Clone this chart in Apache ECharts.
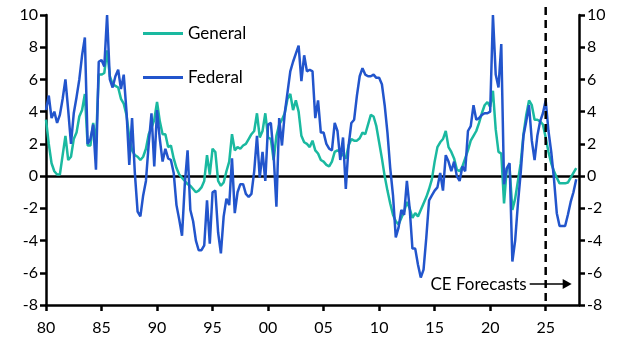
<!DOCTYPE html>
<html><head><meta charset="utf-8">
<script src="https://cdn.jsdelivr.net/npm/echarts@6/dist/echarts.min.js"></script>
<style>html,body{margin:0;padding:0;background:#fff}#c{width:630px;height:355px}</style>
</head><body><div id="c"></div>
<script>
// Quarterly data, 1980Q1 .. 2027Q4 (% y/y)
const startYear = 1980;
const seriesNames = ['General', 'Federal'];
const general = [
  3.5, 2.0, 0.8, 0.3, 0.1, 0.1, 1.3, 2.5, 1.0, 1.2,
  2.3, 2.7, 3.7, 4.1, 5.1, 1.9, 1.9, 3.3, 2.0, 6.3,
  6.3, 6.4, 7.8, 6.2, 5.7, 5.6, 5.5, 4.8, 4.5, 3.8,
  2.4, 1.6, 1.3, 1.2, 1.0, 1.2, 1.7, 2.6, 3.0, 3.5,
  4.6, 3.4, 2.6, 2.6, 1.8, 1.9, 1.1, 0.5, 0.1, -0.1,
  -0.3, -0.5, -0.6, -0.8, -1.0, -0.9, -0.7, -0.3, 1.3, 0.1,
  1.7, 1.5, -0.3, -0.6, -0.4, 0.3, 0.9, 2.6, 1.6, 1.8,
  1.7, 1.9, 2.0, 2.3, 2.6, 2.8, 3.9, 2.4, 2.8, 3.9,
  2.4, 2.3, 1.0, 2.5, 3.2, 3.5, 3.9, 4.8, 5.1, 4.1,
  4.7, 4.0, 2.5, 2.1, 2.0, 1.8, 2.2, 1.6, 1.4, 1.0,
  0.9, 0.7, 0.6, 0.9, 1.5, 1.6, 1.5, 1.3, 1.1, 1.9,
  2.3, 2.2, 2.2, 2.35, 2.7, 2.6, 3.2, 3.8, 3.7, 3.1,
  2.1, 1.1, 0.0, -0.9, -1.7, -2.4, -2.8, -3.0, -2.6, -2.2,
  -1.6, -2.0, -2.6, -2.3, -2.5, -2.1, -1.7, -1.3, -0.8, -0.2,
  0.9, 1.8, 2.1, 2.3, 2.8, 1.8, 1.5, 1.1, 0.4, 0.3,
  0.6, 1.1, 1.6, 2.2, 2.5, 2.8, 3.3, 3.9, 4.4, 4.6,
  4.3, 5.3, 2.9, 1.5, 1.4, -1.7, 0.5, 0.5, -2.1, -1.4,
  -0.3, 0.8, 2.6, 3.8, 4.7, 4.4, 3.5, 3.5, 3.4, 3.2,
  2.4, 1.5, 0.8, 0.3, -0.1, -0.45, -0.45, -0.45, -0.4, -0.1,
  0.2, 0.5
];
const federal = [
  4.1, 5.0, 3.6, 4.0, 3.3, 3.8, 4.8, 6.0, 4.1, 2.0,
  3.9, 4.9, 6.0, 7.5, 8.6, 2.0, 2.3, 3.2, 0.4, 7.1,
  7.2, 6.8, 10.0, 6.0, 5.5, 6.2, 6.6, 5.4, 6.3, 4.0,
  0.7, 3.6, 0.2, -2.2, -2.5, -1.2, -0.3, 2.0, 3.9, 0.6,
  4.1, 2.3, 0.9, 1.7, 1.1, 1.0, 0.2, -1.8, -2.7, -3.7,
  -0.5, 1.6, -2.1, -2.8, -4.0, -4.6, -4.6, -4.3, -1.5, -4.2,
  -1.0, -0.9, -3.5, -4.8, -2.5, -1.4, -1.8, 1.1, -2.3, -1.0,
  -0.5, -0.5, -1.1, -1.3, -1.1, 0.3, 2.5, -0.1, 1.5, -0.3,
  3.2, 3.3, 1.3, -1.9, 3.6, 1.9, 3.9, 5.2, 6.5, 7.1,
  7.6, 8.1, 5.9, 7.5, 6.5, 6.6, 6.5, 3.6, 4.7, 2.7,
  2.7, 2.0, 1.7, 1.6, 3.3, 2.8, 1.0, 2.4, -0.8, 1.9,
  3.3, 3.5, 5.0, 6.2, 6.7, 6.3, 6.2, 6.2, 6.3, 6.1,
  6.1, 5.7, 4.4, 2.7, 0.5, -1.2, -3.8, -3.2, -2.1, -2.4,
  -0.3, -2.0, -4.5, -4.5, -5.5, -6.3, -5.8, -3.8, -1.5, -1.2,
  -0.9, -0.7, 0.2, -0.9, 1.3, 0.9, 0.3, 0.9, 0.0, -0.3,
  0.6, 0.3, 2.8, 3.1, 4.4, 3.5, 3.6, 3.8, 3.9, 3.9,
  4.0, 10.0, 6.3, 5.5, 8.2, -0.5, 0.5, 0.8, -5.3, -4.0,
  -1.7, 0.2, 2.5, 3.4, 4.4, 2.2, 1.0, 2.5, 3.4, 3.9,
  4.7, 2.8, 1.5, -0.2, -2.3, -3.1, -3.1, -3.1, -2.4, -1.6,
  -1.0, -0.2
];
const xMin = 1980, xMax = 2028, xStep = 5;
const yMin = -8, yMax = 10, yStep = 2;
const forecastStart = 2025;
const annotationText = 'CE Forecasts';

const TEAL = '#1ab9a0';
const BLUE = '#2255cc';
const FONT = 'Lato';

const toPairs = arr => arr.map((v, i) => [startYear + i / 4, v]);

const chart = echarts.init(document.getElementById('c'), null, { renderer: 'canvas' });

const yAxisBase = (pos) => ({
  type: 'value', min: yMin, max: yMax, interval: yStep, position: pos,
  axisLine: { show: true, onZero: false, lineStyle: { color: '#000', width: 2.5 } },
  axisTick: { show: true, length: 6, lineStyle: { color: '#000', width: 2.5 } },
  axisLabel: { color: '#000', fontSize: 16, fontFamily: FONT, margin: 8 },
  splitLine: { show: false }
});

chart.setOption({
  animation: false,
  grid: { left: 46, right: 51, top: 15, bottom: 50 },
  legend: {
    orient: 'vertical', left: 143, top: 25, padding: 0,
    itemWidth: 40, itemHeight: 3, itemGap: 27, icon: 'rect',
    textStyle: { fontSize: 17, fontFamily: FONT, color: '#000' },
    data: seriesNames
  },
  xAxis: {
    type: 'value', min: xMin, max: xMax, interval: xStep,
    axisLine: { onZero: false, lineStyle: { color: '#000', width: 2.5 } },
    axisTick: { length: 6, lineStyle: { color: '#000', width: 2.5 } },
    axisLabel: {
      color: '#000', fontSize: 16, fontFamily: FONT, margin: 15, showMaxLabel: false,
      formatter: v => (v % 5 === 0 ? String(v % 100).padStart(2, '0') : '')
    },
    splitLine: { show: false }
  },
  yAxis: [yAxisBase('left'), yAxisBase('right')],
  series: [
    {
      name: seriesNames[0], type: 'line', data: toPairs(general), showSymbol: false,
      lineStyle: { color: TEAL, width: 2.5 }, itemStyle: { color: TEAL }, z: 3,
      markLine: {
        silent: true, symbol: ['none', 'none'], label: { show: false },
        lineStyle: { color: '#000', width: 2.5, type: 'solid' },
        data: [{ yAxis: 0 }], z: 1
      }
    },
    {
      name: seriesNames[1], type: 'line', data: toPairs(federal), showSymbol: false,
      lineStyle: { color: BLUE, width: 2.5 }, itemStyle: { color: BLUE }, z: 4
    }
  ]
});

const pTop = chart.convertToPixel({ xAxisIndex: 0, yAxisIndex: 0 }, [forecastStart, yMax]);
const pBot = chart.convertToPixel({ xAxisIndex: 0, yAxisIndex: 0 }, [forecastStart, yMin]);
const pAnn = chart.convertToPixel({ xAxisIndex: 0, yAxisIndex: 0 }, [forecastStart, -6.7]);
const arrowEnd = pAnn[0] + 26;

chart.setOption({
  graphic: [
    { type: 'line', silent: true, z: 10,
      shape: { x1: pTop[0], y1: pTop[1] - 8, x2: pBot[0], y2: pBot[1] },
      style: { stroke: '#000', lineWidth: 2.5, lineDash: [8, 5] } },
    { type: 'text', silent: true, z: 10, x: pAnn[0] - 19, y: pAnn[1],
      style: { text: annotationText, fill: '#000', font: '17px ' + FONT, align: 'right', verticalAlign: 'middle' } },
    { type: 'line', silent: true, z: 10,
      shape: { x1: pAnn[0] - 16, y1: pAnn[1], x2: arrowEnd - 6, y2: pAnn[1] },
      style: { stroke: '#000', lineWidth: 1.5 } },
    { type: 'polygon', silent: true, z: 10,
      shape: { points: [[arrowEnd - 9, pAnn[1] - 5], [arrowEnd, pAnn[1]], [arrowEnd - 9, pAnn[1] + 5]] },
      style: { fill: '#000' } }
  ]
});
</script>
</body></html>
